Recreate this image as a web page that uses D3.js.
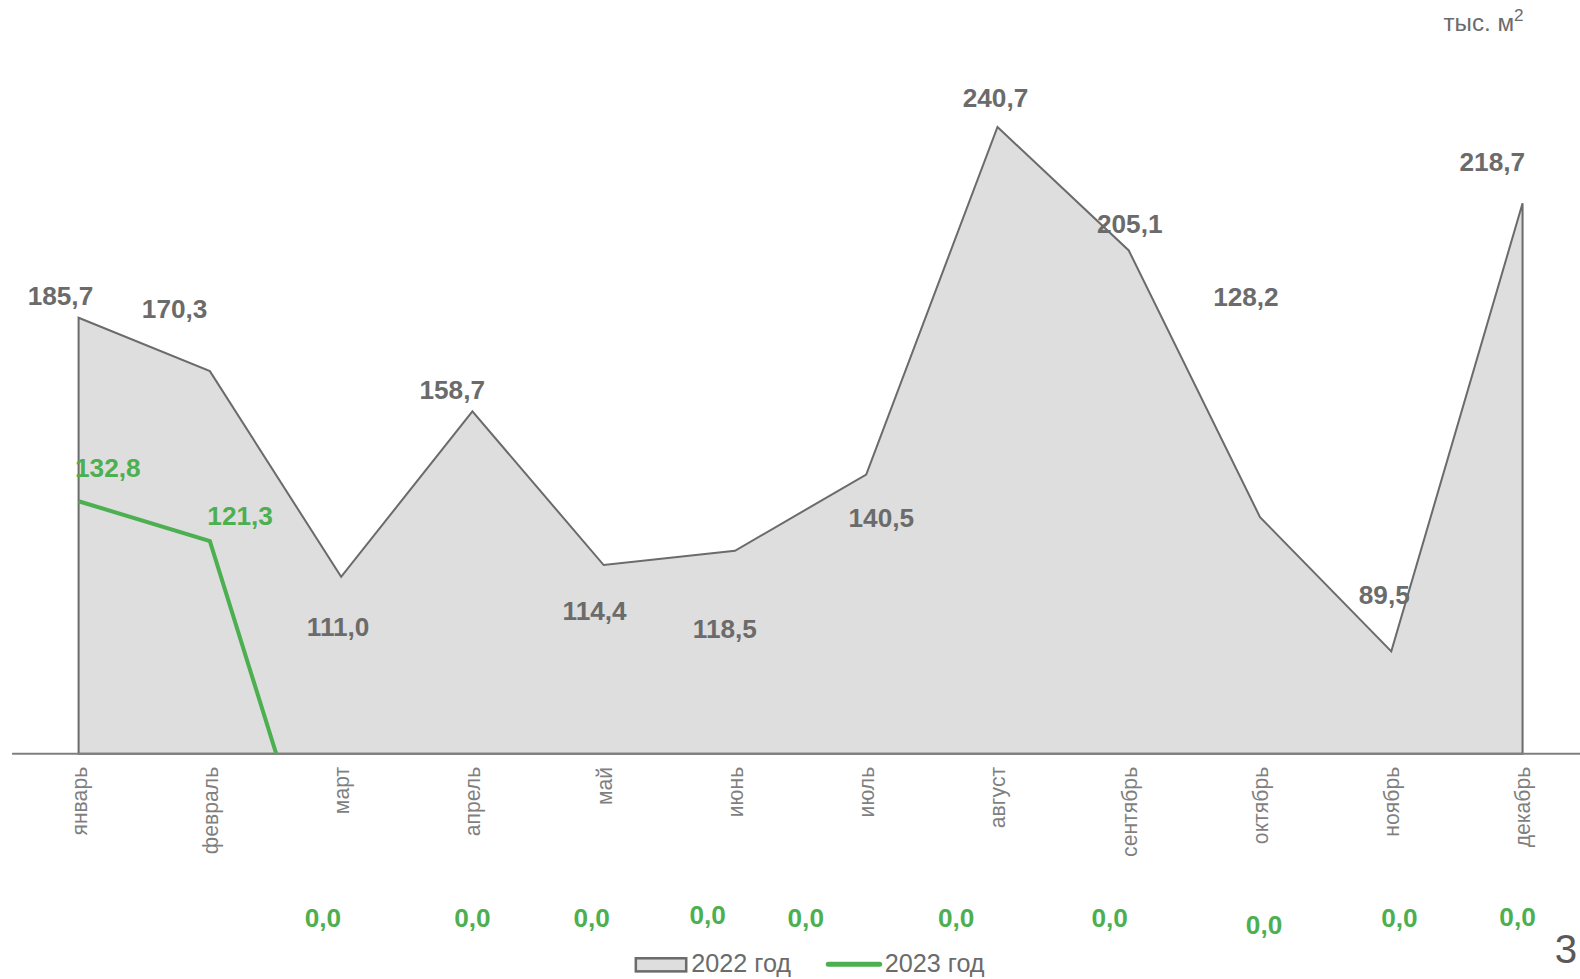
<!DOCTYPE html>
<html>
<head>
<meta charset="utf-8">
<script src="https://cdn.jsdelivr.net/npm/d3@7"></script>
<style>
  html, body { margin: 0; background: #fff; overflow: hidden; }
  svg { display: block; font-family: "Liberation Sans", Arial, sans-serif; }
</style>
</head>
<body>
<svg id="chart"></svg>
<script>
const months = ["январь", "февраль", "март", "апрель", "май", "июнь", "июль", "август", "сентябрь", "октябрь", "ноябрь", "декабрь"]
const values2022 = [185.7, 170.3, 111.0, 158.7, 114.4, 118.5, 140.5, 240.7, 205.1, 128.2, 89.5, 218.7]
const values2023 = [132.8, 121.3, 0, 0, 0, 0, 0, 0, 0, 0, 0, 0]
const seriesNames = ["2022 год", "2023 год"]

// label nudges (layout only), [dx, dy] from the point
const offsets2022 = [[-18, -22], [-35, -62], [-3, 50], [-20, -21], [-9, 45], [-10, 77], [15, 43], [-2, -29], [1, -26], [-14, -219], [-7, -56], [-30, -41]]
const offsets2023 = [[29, -33], [30, -25], [-18, -44], [0, -44], [-12, -44], [-27, -47], [-60, -44], [-41, -44], [-19, -44], [4, -37], [8, -44], [-5, -45]]

const width = 1580
const height = 979
const grey = "#6b6b6b"
const green = "#4caf50"

const svgFrame = d3.select("#chart").attr("width", width).attr("height", height)
// layout was measured on a 1568-wide grid
const k = width / 1568
const svg = svgFrame.append("g").attr("transform", `scale(${k})`)

const x = d3.scalePoint().domain(months).range([78, 1511])
const yMin = 60
const y = d3.scaleLinear().domain([yMin, 240.7]).range([748, 126])

const fmt = (v) => v.toFixed(1).replace(".", ",")

// clip for the plot area so the 2023 line stops at the axis
svg.append("clipPath").attr("id", "plot")
  .append("rect").attr("x", 0).attr("y", 0).attr("width", width).attr("height", y(yMin))

// area 2022
const area = d3.area()
  .x((d, i) => x(months[i]))
  .y0(y(yMin))
  .y1((d) => y(d))
svg.append("path")
  .datum(values2022)
  .attr("d", area)
  .attr("fill", "#dedede")
  .attr("stroke", grey)
  .attr("stroke-width", 2)

// baseline
svg.append("line")
  .attr("x1", 12).attr("x2", 1568)
  .attr("y1", y(yMin)).attr("y2", y(yMin))
  .attr("stroke", "#7f7f7f").attr("stroke-width", 2)

// line 2023
const line = d3.line()
  .x((d, i) => x(months[i]))
  .y((d) => y(d))
svg.append("path")
  .datum(values2023)
  .attr("d", line)
  .attr("fill", "none")
  .attr("stroke", green)
  .attr("stroke-width", 4)
  .attr("clip-path", "url(#plot)")

// x axis, labels read bottom to top
const axis = svg.append("g")
  .attr("transform", `translate(0, ${y(yMin) + 13})`)
  .call(d3.axisBottom(x).tickSize(0).tickPadding(0))
axis.select(".domain").remove()
axis.selectAll("text")
  .attr("transform", "rotate(-90)")
  .attr("x", 0).attr("y", 0).attr("dy", "0.35em")
  .attr("text-anchor", "end")
  .attr("fill", "#7f7f7f")
  .style("font-size", "21px")
  .style("font-family", "Liberation Sans, Arial, sans-serif")

// data labels
svg.append("g").selectAll("text")
  .data(values2022)
  .join("text")
  .attr("x", (d, i) => x(months[i]) + offsets2022[i][0])
  .attr("y", (d, i) => y(d) + offsets2022[i][1])
  .attr("dy", "0.35em")
  .attr("text-anchor", "middle")
  .attr("fill", grey)
  .attr("font-weight", "bold")
  .attr("font-size", 26)
  .text(fmt)

svg.append("g").selectAll("text")
  .data(values2023)
  .join("text")
  .attr("x", (d, i) => x(months[i]) + offsets2023[i][0])
  .attr("y", (d, i) => y(d) + offsets2023[i][1])
  .attr("dy", "0.35em")
  .attr("text-anchor", "middle")
  .attr("fill", green)
  .attr("font-weight", "bold")
  .attr("font-size", 26)
  .text(fmt)

// units
const unit = svg.append("text")
  .attr("x", 1512).attr("y", 31)
  .attr("text-anchor", "end")
  .attr("fill", grey)
  .attr("font-size", 24)
unit.append("tspan").text("тыс. м")
unit.append("tspan").attr("font-size", 17).attr("dy", -10).text("2")

// legend
const legend = svg.append("g").attr("transform", "translate(630, 956)")
legend.append("rect")
  .attr("x", 1).attr("y", -5).attr("width", 50).attr("height", 13)
  .attr("fill", "#dedede").attr("stroke", grey).attr("stroke-width", 2.5)
legend.append("text")
  .attr("x", 56).attr("y", 0).attr("dy", "0.35em")
  .attr("fill", grey).attr("font-size", 25)
  .text(seriesNames[0])
legend.append("line")
  .attr("x1", 192).attr("x2", 243).attr("y1", 1).attr("y2", 1)
  .attr("stroke", green).attr("stroke-width", 5).attr("stroke-linecap", "round")
legend.append("text")
  .attr("x", 248).attr("y", 0).attr("dy", "0.35em")
  .attr("fill", grey).attr("font-size", 25)
  .text(seriesNames[1])

// page number
svg.append("text")
  .attr("x", 1554).attr("y", 956)
  .attr("text-anchor", "middle")
  .attr("fill", "#595959")
  .attr("font-size", 40)
  .text("3")
</script>
</body>
</html>
